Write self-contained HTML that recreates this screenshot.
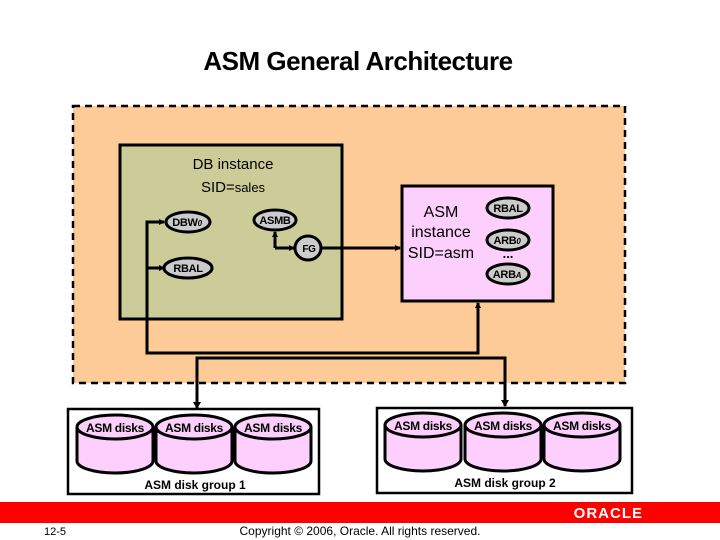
<!DOCTYPE html>
<html><head><meta charset="utf-8"><style>
html,body{margin:0;padding:0;background:#fff}
svg{display:block}
text{font-family:"Liberation Sans",Arial,sans-serif}
</style></head><body>
<svg width="720" height="540" viewBox="0 0 720 540" xmlns="http://www.w3.org/2000/svg">
<defs>
<marker id="ar" markerWidth="6" markerHeight="6" refX="5" refY="3" orient="auto" markerUnits="userSpaceOnUse"><path d="M0,0 L6,3 L0,6 z" fill="#000"/></marker>
<g id="disk">
<path d="M0,12 L0,46 A38,12 0 0 0 76,46 L76,12" fill="#fccffc" stroke="#000" stroke-width="3"/>
<ellipse cx="38" cy="12" rx="38" ry="12" fill="#fccffc" stroke="#000" stroke-width="3"/>
<text x="38" y="17" font-size="12" font-weight="bold" text-anchor="middle" letter-spacing="-0.3">ASM disks</text>
</g>
</defs>
<text x="358" y="70" font-size="26" font-weight="bold" text-anchor="middle" letter-spacing="-0.5">ASM General Architecture</text>
<rect x="73" y="106" width="552" height="277" fill="#fdcb98" stroke="#000" stroke-width="2.5" stroke-dasharray="7,5"/>
<rect x="120" y="145" width="222" height="174" fill="#cccc99" stroke="#000" stroke-width="3"/>
<text x="233" y="169" font-size="15" text-anchor="middle">DB instance</text>
<text x="233" y="192" font-size="15" text-anchor="middle">SID=<tspan font-size="13">sales</tspan></text>
<rect x="402" y="186" width="151" height="115" fill="#fccffc" stroke="#000" stroke-width="3"/>
<text x="441" y="217" font-size="16" text-anchor="middle">ASM</text>
<text x="441" y="237" font-size="16" text-anchor="middle">instance</text>
<text x="441" y="258" font-size="16" text-anchor="middle">SID=asm</text>
<text x="508" y="258" font-size="13" text-anchor="middle" font-weight="bold">...</text>
<g stroke="#000" stroke-width="3" fill="none">
<path d="M160,222 L147,222 L147,353 L478,353 L478,303" marker-end="url(#ar)"/>
<path d="M147,268 L164,268" marker-end="url(#ar)"/>
<path d="M160,222 L164,222" marker-end="url(#ar)"/>
<path d="M197,408 L197,358 L505,358 L505,406" />
<path d="M275,248 L275,232" marker-end="url(#ar)"/>
<path d="M275,248 L294,248" marker-end="url(#ar)"/>
<path d="M321,248 L400,248" marker-end="url(#ar)"/>
</g>
<path d="M193,402 L201,402 L197,409 z M501,400 L509,400 L505,407 z"/>
<g stroke="#000" stroke-width="3" fill="#cccccc">
<ellipse cx="188" cy="222" rx="22" ry="10"/>
<ellipse cx="275" cy="220" rx="21" ry="10"/>
<ellipse cx="308" cy="248" rx="13" ry="12"/>
<ellipse cx="188" cy="268" rx="24" ry="10"/>
<ellipse cx="508" cy="208" rx="21" ry="10"/>
<ellipse cx="508" cy="240" rx="21" ry="10"/>
<ellipse cx="508" cy="274" rx="21" ry="10"/>
</g>
<g font-size="11" font-weight="bold" text-anchor="middle" letter-spacing="-0.3">
<text x="187" y="226">DBW<tspan font-size="8" font-style="italic">0</tspan></text>
<text x="275" y="224">ASMB</text>
<text x="309" y="252" font-size="10">FG</text>
<text x="188" y="272">RBAL</text>
<text x="508" y="212">RBAL</text>
<text x="507" y="244">ARB<tspan font-size="8" font-style="italic">0</tspan></text>
<text x="507" y="278">ARB<tspan font-size="8" font-style="italic">A</tspan></text>
</g>
<rect x="68" y="409" width="251" height="85" fill="#fff" stroke="#000" stroke-width="2.5"/>
<use href="#disk" x="77" y="415"/><use href="#disk" x="156" y="415"/><use href="#disk" x="235" y="415"/>
<text x="195" y="489" font-size="12" font-weight="bold" text-anchor="middle">ASM disk group 1</text>
<rect x="377" y="408" width="255" height="85" fill="#fff" stroke="#000" stroke-width="2.5"/>
<use href="#disk" x="385" y="413"/><use href="#disk" x="465" y="413"/><use href="#disk" x="544" y="413"/>
<text x="505" y="487" font-size="12" font-weight="bold" text-anchor="middle">ASM disk group 2</text>
<rect x="0" y="502" width="720" height="21" fill="#ff0000"/>
<text x="643" y="518" font-size="15" font-weight="bold" fill="#fff" text-anchor="end" letter-spacing="1">ORACLE</text>
<text x="44" y="535" font-size="11">12-5</text>
<text x="360" y="535" font-size="12" text-anchor="middle">Copyright © 2006, Oracle. All rights reserved.</text>
</svg>
</body></html>
